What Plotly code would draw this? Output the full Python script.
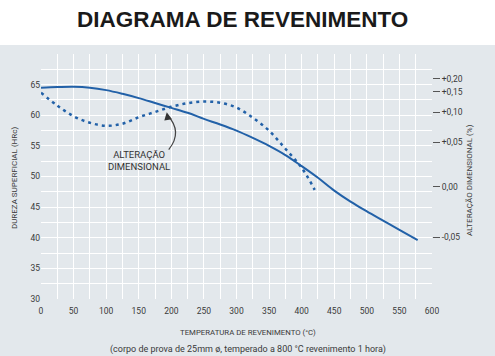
import numpy as np
import plotly.graph_objects as go

# ---------------- data ----------------
temp_hardness = [0, 25, 50, 75, 100, 125, 150, 175, 200, 225, 250, 275, 300,
                 325, 350, 375, 400, 425, 450, 475, 500, 525, 550, 578]
hardness_hrc = [64.5, 64.6, 64.65, 64.5, 64.1, 63.5, 62.8, 62.0, 61.2, 60.4, 59.4,
                58.5, 57.5, 56.3, 55.0, 53.5, 51.7, 49.8, 47.7, 45.9, 44.3, 42.8,
                41.3, 39.6]

temp_dim = [0, 25, 50, 75, 100, 125, 150, 175, 200, 225, 250, 275, 300, 325,
            350, 375, 400, 420]
dim_change_pct = [0.148, 0.116, 0.093, 0.082, 0.077, 0.0805, 0.0913, 0.100, 0.113,
                  0.122, 0.126, 0.123, 0.111, 0.0905, 0.0688, 0.0425, 0.0213, -0.003]

x_ticks = [0, 50, 100, 150, 200, 250, 300, 350, 400, 450, 500, 550, 600]
y_ticks = [30, 35, 40, 45, 50, 55, 60, 65]

# right axis (non-linear scale in the original): tick values and their positions
dim_ticks = [-0.05, 0.00, 0.05, 0.10, 0.15, 0.20]
dim_tick_text = ["-0,05", "0,00", "+0,05", "+0,10", "+0,15", "+0,20"]
dim_tick_pos = [40.09, 48.32, 55.63, 60.53, 63.81, 65.93]

# ---------------- styles ----------------
BG = "#e3e8ec"
BLUE = "#2261a8"
TXT = "#3a3a3a"
FONT = "Roboto, sans-serif"


def dim_to_pos(v):
    return np.interp(v, dim_ticks, dim_tick_pos)


fig = go.Figure()
fig.add_trace(go.Scatter(x=temp_hardness, y=hardness_hrc, mode="lines",
                         line=dict(color=BLUE, width=2, shape="spline"),
                         hoverinfo="skip", showlegend=False))
fig.add_trace(go.Scatter(x=temp_dim, y=dim_to_pos(np.array(dim_change_pct)),
                         mode="lines",
                         line=dict(color=BLUE, width=2.5, shape="spline", dash="3px,4px"),
                         hoverinfo="skip", showlegend=False))
# invisible trace for the secondary axis
fig.add_trace(go.Scatter(x=[None], y=[None], yaxis="y2", showlegend=False))

fig.update_layout(
    width=495, height=356,
    margin=dict(l=41, r=62.5, t=54, b=56.5),
    paper_bgcolor="white",
    plot_bgcolor=BG,
    font=dict(family=FONT, size=8.5, color=TXT),
    xaxis=dict(range=[0, 600], tickvals=x_ticks, showgrid=True, gridcolor="white",
               gridwidth=1, zeroline=False, showline=False, ticks="",
               ticklabelstandoff=5,
               minor=dict(dtick=25, showgrid=True, gridcolor="white", gridwidth=1),
               tickfont=dict(size=8.5, color=TXT)),
    yaxis=dict(range=[30, 70], tickvals=y_ticks, showgrid=True, gridcolor="white",
               gridwidth=1, zeroline=False, showline=False, ticks="",
               minor=dict(dtick=2.5, showgrid=True, gridcolor="white", gridwidth=1),
               tickfont=dict(size=8.5, color=TXT)),
    yaxis2=dict(range=[30, 70], overlaying="y", side="right", tickvals=dim_tick_pos,
                ticktext=dim_tick_text, ticks="outside", ticklen=7, tickcolor="#555",
                tickwidth=1, showgrid=False, zeroline=False, showline=False,
                tickfont=dict(size=8.5, color=TXT)),
    shapes=[
        dict(type="rect", xref="paper", yref="paper", x0=-0.2, x1=1.3, y0=-0.3,
             y1=1.0367, fillcolor=BG, line=dict(width=0), layer="below"),
        dict(type="path", xref="x", yref="y",
             path="M 196,54.4 Q 218,57.3 194,60.0",
             line=dict(color="#444", width=1.2)),
    ],
    annotations=[
        dict(text="<b>DIAGRAMA DE REVENIMENTO</b>", xref="paper", yref="paper",
             x=0.515, y=1.1426, xanchor="center", yanchor="middle", showarrow=False,
             font=dict(family="Liberation Sans, Arial, sans-serif", size=22.5,
                       color="#1a1a1a")),
        dict(text="DUREZA SUPERFICIAL (HRc)", xref="paper", yref="paper",
             x=-0.0681, y=0.495, xanchor="center", yanchor="middle", textangle=-90,
             showarrow=False, font=dict(size=8)),
        dict(text="ALTERAÇÃO DIMENSIONAL (%)", xref="paper", yref="paper",
             x=1.0957, y=0.487, xanchor="center", yanchor="middle", textangle=-90,
             showarrow=False, font=dict(size=8)),
        dict(text="TEMPERATURA DE REVENIMENTO (°C)", xref="paper", yref="paper",
             x=0.529, y=-0.1377, xanchor="center", yanchor="middle", showarrow=False,
             font=dict(size=7.8)),
        dict(text="(corpo de prova de 25mm ø, temperado a 800 °C revenimento 1 hora)",
             xref="paper", yref="paper", x=0.529, y=-0.2057, xanchor="center",
             yanchor="middle", showarrow=False, font=dict(size=9)),
        dict(text="ALTERAÇÃO<br>DIMENSIONAL", xref="x", yref="y", x=151, y=52.6,
             xanchor="center", yanchor="middle", showarrow=False,
             font=dict(size=9.5, color="#333")),
        dict(text="", xref="x", yref="y", x=193, y=60.5, ax=194.5, ay=59.6,
             axref="x", ayref="y", showarrow=True, arrowhead=2, arrowsize=1.3,
             arrowwidth=1.2, arrowcolor="#333"),
    ],
)

fig.write_html("out.html", config={"displayModeBar": False},
               post_script="document.body.style.margin='0';document.body.style.padding='0';")
